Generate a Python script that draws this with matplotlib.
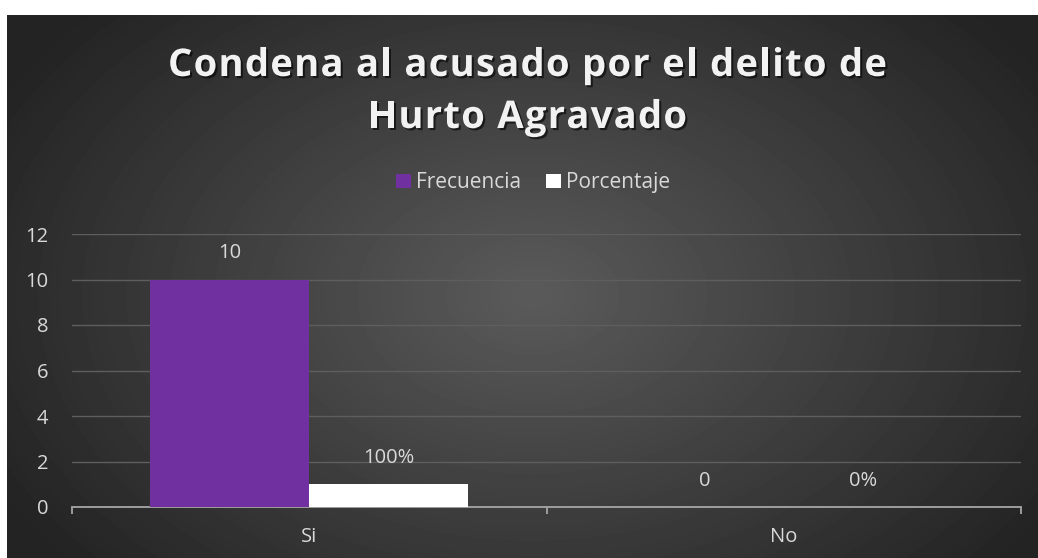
import numpy as np
import matplotlib.pyplot as plt
import matplotlib.patheffects as pe
from matplotlib.font_manager import FontProperties, findfont
from matplotlib.ft2font import FT2Font

categories = ['Si', 'No']
frecuencia = [10, 0]
porcentaje = [1, 0]
porcentaje_labels = ['100%', '0%']
yticks = [0, 2, 4, 6, 8, 10, 12]
title_lines = ['Condena al acusado por el delito de', 'Hurto Agravado']

plt.rcParams['font.family'] = ['Open Sans', 'DejaVu Sans']
text_color = '#d9d9d9'
fs = 14.5

W, H = 1038, 558
fig = plt.figure(figsize=(W / 100, H / 100), dpi=100, facecolor='white')

# dark background with a soft radial glow
bg = fig.add_axes([7 / W, 0, 1 - 7 / W, 543 / H])
yy, xx = np.mgrid[0:543, 0:1031]
r = np.sqrt(((xx - 525) / 620) ** 2 + ((yy - 280) / 420) ** 2)
shade = np.clip(0.355 - 0.22 * r, 0.14, 0.36)
bg.imshow(shade, cmap='gray', vmin=0, vmax=1, aspect='auto')
bg.axis('off')

ax = fig.add_axes([72 / W, 51 / H, 949 / W, 273 / H])
ax.set_facecolor('none')

x = np.arange(len(categories))
w = 0.335
b1 = ax.bar(x - w / 2, frecuencia, w, color='#7030a0', label='Frecuencia', zorder=3)
b2 = ax.bar(x + w / 2, porcentaje, w, color='white', label='Porcentaje', zorder=3)

for rect, v in zip(b1, frecuencia):
    ax.annotate(str(v), (rect.get_x() + rect.get_width() / 2, rect.get_height()),
                xytext=(0, 19), textcoords='offset points', ha='center', va='center',
                color=text_color, fontsize=fs)
for rect, lab in zip(b2, porcentaje_labels):
    ax.annotate(lab, (rect.get_x() + rect.get_width() / 2, rect.get_height()),
                xytext=(0, 19), textcoords='offset points', ha='center', va='center',
                color=text_color, fontsize=fs)

ax.set_xlim(-0.5, 1.5)
ax.set_ylim(0, 12)
ax.set_yticks(yticks)
ax.yaxis.grid(True, color='#5e5e5e', linewidth=1, zorder=0)
ax.set_axisbelow(True)
for s in ['top', 'right', 'left']:
    ax.spines[s].set_visible(False)
ax.spines['bottom'].set_color('#a6a6a6')
ax.spines['bottom'].set_linewidth(1.3)
ax.tick_params(axis='y', length=0, pad=17, colors=text_color, labelsize=fs)

# category labels and boundary ticks
ax.set_xticks([-0.5, 0.5, 1.5])
ax.set_xticklabels([])
ax.tick_params(axis='x', length=5, width=1.3, color='#a6a6a6', direction='out')
for xi, c in zip(x, categories):
    ax.text(xi, -0.11, c, transform=ax.get_xaxis_transform(), ha='center', va='center',
            color=text_color, fontsize=fs)

# title with slight letter spacing, placed glyph by glyph
tsize = 27.5
tprop = FontProperties(family='Open Sans', weight='bold', size=tsize)
font = FT2Font(findfont(tprop))
font.set_size(tsize, 100)


def advances(s):
    return [font.load_char(ord(ch)).linearHoriAdvance / 65536 for ch in s]


adv0 = advances(title_lines[0])
spacing = max(0.0, (719 - sum(adv0)) / (len(title_lines[0]) - 1))
shadow = [pe.withSimplePatchShadow(offset=(1.5, -1.5), shadow_rgbFace='black', alpha=0.6)]
for line, base in zip(title_lines, [76, 128]):
    adv = advances(line)
    total = sum(adv) + spacing * (len(line) - 1)
    px = 527.5 - total / 2
    for ch, a in zip(line, adv):
        if ch != ' ':
            fig.text(px / W, 1 - base / H, ch, ha='left', va='baseline', color='#f2f2f2',
                     fontproperties=tprop, path_effects=shadow)
        px += a + spacing

leg = fig.legend(loc='center', bbox_to_anchor=(533 / W, 1 - 183 / H), ncol=2, frameon=False,
                 handlelength=0.7, handleheight=0.7, handletextpad=0.25, columnspacing=1.2,
                 fontsize=fs + 0.5)
for t in leg.get_texts():
    t.set_color(text_color)

fig.savefig('out.png', dpi=100, facecolor='white')
